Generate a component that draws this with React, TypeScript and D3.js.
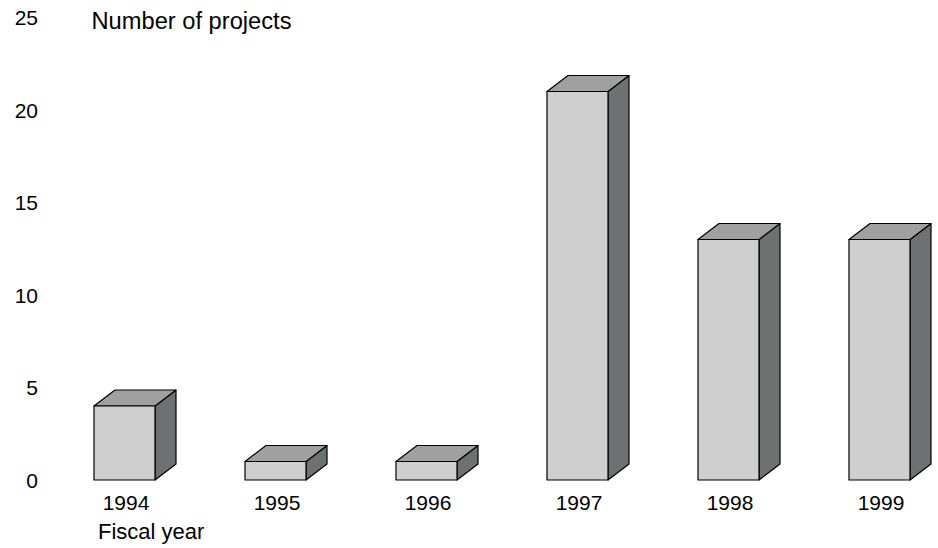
import React from "react";
import * as d3 from "d3";

const years = ["1994", "1995", "1996", "1997", "1998", "1999"];
const projects = [4, 1, 1, 21, 13, 13];
const yTicks = [0, 5, 10, 15, 20, 25];

export default function App() {
  const W = 938, H = 548;
  const y = d3.scaleLinear().domain([0, 25]).range([480, 17.5]);
  const x = d3.scaleBand().domain(years).range([94, 910]).paddingInner(0.596).paddingOuter(0);
  const dx = 21, dy = 16;
  const font = "Liberation Sans, Arial, sans-serif";
  return (
    <svg width={W} height={H} style={{ position: "absolute", left: 0, top: 0 }}>
      <rect width={W} height={H} fill="#fff" />
      {yTicks.map((t) => (
        <text key={t} x={38} y={y(t) + 7.5} textAnchor="end" fontFamily={font} fontSize={21} fill="#000">{t}</text>
      ))}
      <text x={91.5} y={28.5} fontFamily={font} fontSize={23} fill="#000" textLength={200} lengthAdjust="spacingAndGlyphs">Number of projects</text>
      {years.map((yr, i) => {
        const x0 = x(yr)!;
        const w = x.bandwidth();
        const top = y(projects[i]);
        const bot = y(0);
        const side = `M${x0 + w},${bot} L${x0 + w + dx},${bot - dy} L${x0 + w + dx},${top - dy} L${x0 + w},${top} Z`;
        const topF = `M${x0},${top} L${x0 + dx},${top - dy} L${x0 + w + dx},${top - dy} L${x0 + w},${top} Z`;
        return (
          <g key={yr} stroke="#000" strokeWidth={1.2} strokeLinejoin="round">
            <path d={side} fill="#6d7171" />
            <path d={topF} fill="#a0a0a0" />
            <rect x={x0} y={top} width={w} height={bot - top} fill="#cfcfcf" />
            <text x={x0 + w / 2 + 1.5} y={509.5} textAnchor="middle" stroke="none" fontFamily={font} fontSize={21} fill="#000">{yr}</text>
          </g>
        );
      })}
      <text x={98} y={539} fontFamily={font} fontSize={22} fill="#000">Fiscal year</text>
    </svg>
  );
}
